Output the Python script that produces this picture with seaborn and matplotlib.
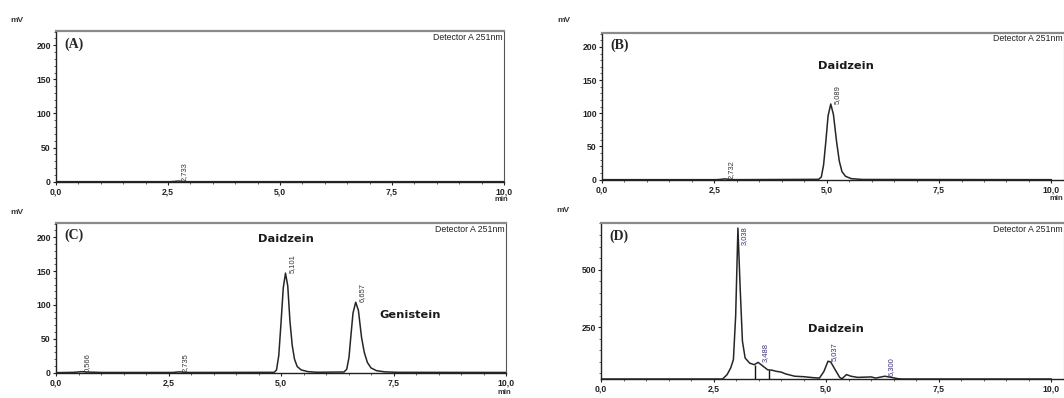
import matplotlib
matplotlib.use("Agg")
import matplotlib.pyplot as plt
import seaborn as sns
import pandas as pd
from matplotlib.ticker import MultipleLocator, FuncFormatter

sns.set_theme(style="ticks")
plt.rcParams['font.family'] = ['Liberation Sans', 'DejaVu Sans']

# ---------------- data ----------------
# Panel A
time_a = [0.0, 2.55, 2.65, 2.73, 2.82, 2.95, 10.0]
signal_a = [0.0, 0.0, 0.4, 0.9, 0.4, 0.0, 0.0]
peak_rt_a = [2.733]
peak_h_a = [0.9]
peak_lbl_a = ["2,733"]

# Panel B
time_b = [0.0, 2.55, 2.65, 2.73, 2.82, 2.95, 4.82, 4.88, 4.93, 4.98, 5.03, 5.09,
          5.15, 5.22, 5.28, 5.34, 5.42, 5.55, 5.80, 10.0]
signal_b = [0.0, 0.0, 0.5, 1.2, 0.5, 0.0, 0.5, 4.0, 22.0, 57.0, 96.0, 114.0,
            98.0, 57.0, 28.0, 12.0, 5.0, 1.5, 0.3, 0.0]
peak_rt_b = [2.732, 5.089]
peak_h_b = [1.2, 114.0]
peak_lbl_b = ["2,732", "5,089"]

# Panel C
time_c = [0.0, 0.40, 0.57, 0.75, 1.00, 2.60, 2.74, 2.90, 4.85, 4.90, 4.95, 5.00,
          5.05, 5.10, 5.15, 5.20, 5.25, 5.30, 5.36, 5.45, 5.60, 5.80, 6.40, 6.46,
          6.51, 6.55, 6.60, 6.66, 6.72, 6.79, 6.85, 6.92, 7.00, 7.12, 7.30, 7.60, 10.0]
signal_c = [0.0, 0.5, 1.5, 0.8, 0.3, 0.3, 1.2, 0.3, 0.5, 4.0, 25.0, 73.0,
            125.0, 147.0, 128.0, 75.0, 40.0, 20.0, 9.0, 4.0, 1.5, 0.6, 1.0, 5.0,
            22.0, 52.0, 88.0, 104.0, 92.0, 52.0, 30.0, 15.0, 7.0, 3.0, 1.2, 0.5, 0.3]
peak_rt_c = [0.566, 2.735, 5.101, 6.657]
peak_h_c = [1.5, 1.2, 147.0, 104.0]
peak_lbl_c = ["0,566", "2,735", "5,101", "6,657"]

# Panel D
time_d = [0.0, 2.70, 2.80, 2.88, 2.94, 2.99, 3.04, 3.09, 3.14, 3.20, 3.30, 3.40,
          3.49, 3.60, 3.70, 3.80, 3.90, 4.00, 4.10, 4.30, 4.50, 4.70, 4.85, 4.95,
          5.04, 5.10, 5.20, 5.30, 5.35, 5.45, 5.55, 5.70, 6.00, 6.10, 6.30, 6.45,
          6.60, 6.70, 10.0]
signal_d = [26.0, 26.0, 45.0, 74.0, 110.0, 300.0, 680.0, 420.0, 190.0, 117.0, 95.0, 88.0,
            98.0, 81.0, 66.0, 64.0, 59.0, 56.0, 48.0, 38.0, 36.0, 32.0, 30.0, 59.0,
            103.0, 100.0, 66.0, 33.0, 27.0, 45.0, 38.0, 33.0, 35.0, 30.0, 38.0, 33.0,
            27.0, 26.0, 26.0]
peak_rt_d = [3.038, 3.488, 5.037, 6.300]
peak_h_d = [680.0, 98.0, 103.0, 38.0]
peak_lbl_d = ["3,038", "3,488", "5,037", "6,300"]
drop_t_d = [3.42, 3.74]
drop_h_d = [88.0, 66.0]

# compound names: (text, time, level)
names_b = [("Daidzein", 5.43, 172)]
names_c = [("Daidzein", 5.10, 198), ("Genistein", 7.88, 85)]
names_d = [("Daidzein", 5.21, 243)]

W, H = 1064, 398
fig = plt.figure(figsize=(W / 100, H / 100), dpi=100)

def rect(l, r, t, b):
    return [l / W, 1 - b / H, (r - l) / W, (b - t) / H]

axA = fig.add_axes(rect(56, 504, 31, 182))
axB = fig.add_axes(rect(602, 1064, 33, 180))
axC = fig.add_axes(rect(56, 506, 223, 373))
axD = fig.add_axes(rect(601, 1064, 223, 379))

comma = FuncFormatter(lambda v, p: f"{v:.1f}".replace(".", ","))
intfmt = FuncFormatter(lambda v, p: f"{int(round(v))}")

line_col = "#262626"

def style(ax, letter, xmax, ylim, ymajor, yminor):
    ax.set_xlim(0, xmax)
    ax.set_ylim(*ylim)
    ax.xaxis.set_major_locator(MultipleLocator(2.5))
    ax.xaxis.set_minor_locator(MultipleLocator(0.5))
    ax.yaxis.set_major_locator(MultipleLocator(ymajor))
    ax.yaxis.set_minor_locator(MultipleLocator(yminor))
    ax.xaxis.set_major_formatter(comma)
    ax.yaxis.set_major_formatter(intfmt)
    ax.tick_params(axis="both", which="major", direction="out", length=2.5, width=0.8,
                   labelsize=6.2, pad=1.2, colors="#222")
    ax.tick_params(axis="both", which="minor", direction="out", length=1.5, width=0.6,
                   colors="#444")
    for lab in ax.get_xticklabels() + ax.get_yticklabels():
        lab.set_fontweight("bold")
    ax.set_xlabel("")
    ax.set_ylabel("")
    ax.set_facecolor("white")
    for s in ["left", "bottom"]:
        ax.spines[s].set_color("#222")
        ax.spines[s].set_linewidth(1.0)
    ax.spines["top"].set_color("#8a8a8a")
    ax.spines["top"].set_linewidth(1.6)
    ax.spines["right"].set_color("#555")
    ax.spines["right"].set_linewidth(0.8)
    ax.text(0.018, 0.96, letter, transform=ax.transAxes, ha="left", va="top",
            family=["Liberation Serif", "DejaVu Serif"], fontweight="bold", fontsize=10)
    ax.text(0.997, 0.99, "Detector A 251nm", transform=ax.transAxes, ha="right",
            va="top", fontsize=6.3, color="#222")

def draw(ax, t, s):
    df = pd.DataFrame({"t": t, "s": s})
    sns.lineplot(data=df, x="t", y="s", ax=ax, color=line_col, linewidth=1.1,
                 sort=False, estimator=None)

def peak_labels(ax, rts, hs, lbls, dx, color="#333", tops=None):
    for i, (rt, h, lb) in enumerate(zip(rts, hs, lbls)):
        if tops is not None and tops[i]:
            ax.text(rt + dx, h + 8, lb, rotation=90, ha="center", va="top",
                    fontsize=5.4, color=color)
        else:
            ax.text(rt + dx, h, lb, rotation=90, ha="center", va="bottom",
                    fontsize=5.4, color=color)

def names(ax, items):
    for txt, x, y in items:
        ax.text(x, y, txt, ha="center", va="center", fontsize=8.2, fontweight="bold",
                family=["DejaVu Sans"], color="#1a1a1a")

# Panel A
draw(axA, time_a, signal_a)
style(axA, "(A)", 10.0, (-0.5, 221), 50, 10)
peak_labels(axA, peak_rt_a, peak_h_a, peak_lbl_a, 0.13)

# Panel B
draw(axB, time_b, signal_b)
style(axB, "(B)", 10.28, (-0.5, 221), 50, 10)
peak_labels(axB, peak_rt_b, peak_h_b, peak_lbl_b, 0.14)
names(axB, names_b)

# Panel C
draw(axC, time_c, signal_c)
style(axC, "(C)", 10.0, (-0.5, 221), 50, 10)
peak_labels(axC, peak_rt_c, peak_h_c, peak_lbl_c, 0.14)
names(axC, names_c)

# Panel D
draw(axD, time_d, signal_d)
style(axD, "(D)", 10.28, (26, 702), 250, 50)
axD.vlines(drop_t_d, 26, drop_h_d, color="#111", linewidth=1.0)
peak_labels(axD, peak_rt_d, peak_h_d, peak_lbl_d, 0.15, color="#3b2d7a",
            tops=[True, False, False, False])
names(axD, names_d)

# unit labels
for (x, y) in [(10, 20), (557, 20), (10, 212), (556, 211)]:
    fig.text(x / W, 1 - y / H, "mV", ha="left", va="center", fontsize=6, fontweight="bold",
             color="#333")
for (x, y) in [(501, 200), (1056, 199), (504, 392)]:
    fig.text(x / W, 1 - y / H, "min", ha="center", va="center", fontsize=5.5,
             fontweight="bold", color="#333")

fig.savefig("out.png", dpi=100, facecolor="white")
